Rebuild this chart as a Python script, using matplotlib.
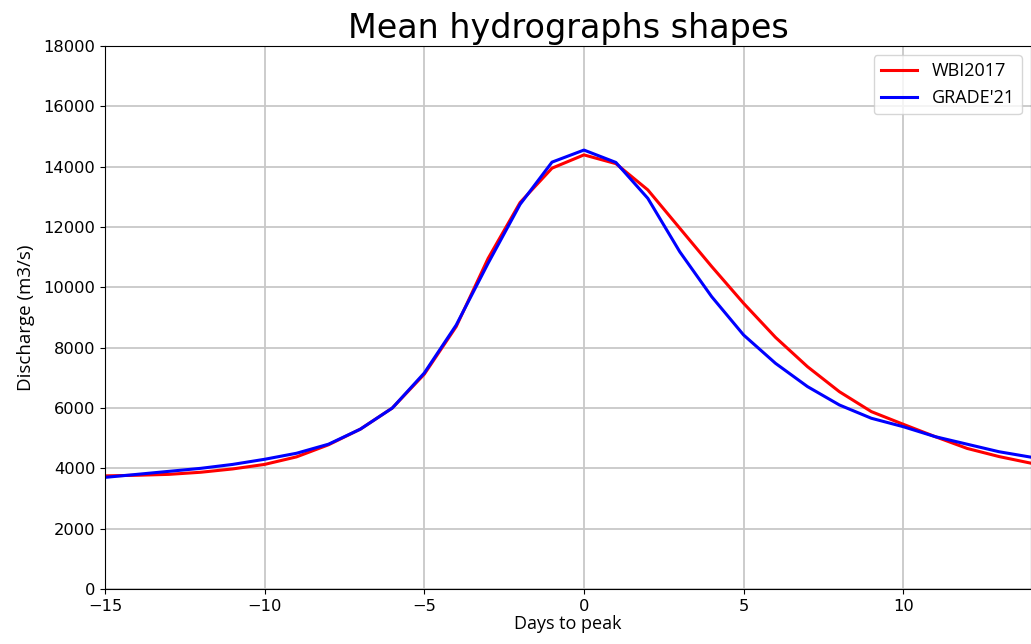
import matplotlib
matplotlib.use("Agg")
import matplotlib.pyplot as plt

# days relative to the peak
days = list(range(-15, 15))

wbi2017 = [3750, 3770, 3800, 3870, 3980, 4130, 4380, 4780, 5300, 6000,
           7120, 8700, 10960, 12810, 13950, 14390, 14100, 13230, 11960, 10690,
           9470, 8340, 7370, 6540, 5880, 5460, 5050, 4660, 4390, 4170]
grade21 = [3700, 3800, 3900, 4000, 4130, 4300, 4500, 4800, 5300, 6000,
           7160, 8750, 10800, 12750, 14150, 14550, 14140, 12950, 11180, 9690,
           8420, 7480, 6710, 6100, 5660, 5380, 5050, 4800, 4550, 4370]

fig = plt.figure(figsize=(10.31, 6.44), dpi=100)
ax = fig.add_axes([0.1018, 0.0854, 0.8982, 0.8432])

ax.plot(days, wbi2017, color='red', linewidth=2.2, label='WBI2017')
ax.plot(days, grade21, color='blue', linewidth=2.2, label="GRADE'21")

ax.set_xlim(-15, 14)
ax.set_ylim(0, 18000)
ax.set_xticks([-15, -10, -5, 0, 5, 10])
ax.set_yticks(range(0, 18001, 2000))
ax.tick_params(labelsize=11.7)
ax.grid(True, color='#c8c8c8', linewidth=1.3)

ax.set_title('Mean hydrographs shapes', fontsize=24, pad=6)
ax.set_xlabel('Days to peak', fontsize=13, family='Open Sans', labelpad=1)
ax.set_ylabel('Discharge (m3/s)', fontsize=13.5, family='Open Sans', labelpad=6)
ax.legend(loc='upper right', prop={'family': 'Open Sans', 'size': 13})

fig.savefig('out.png', dpi=100)
